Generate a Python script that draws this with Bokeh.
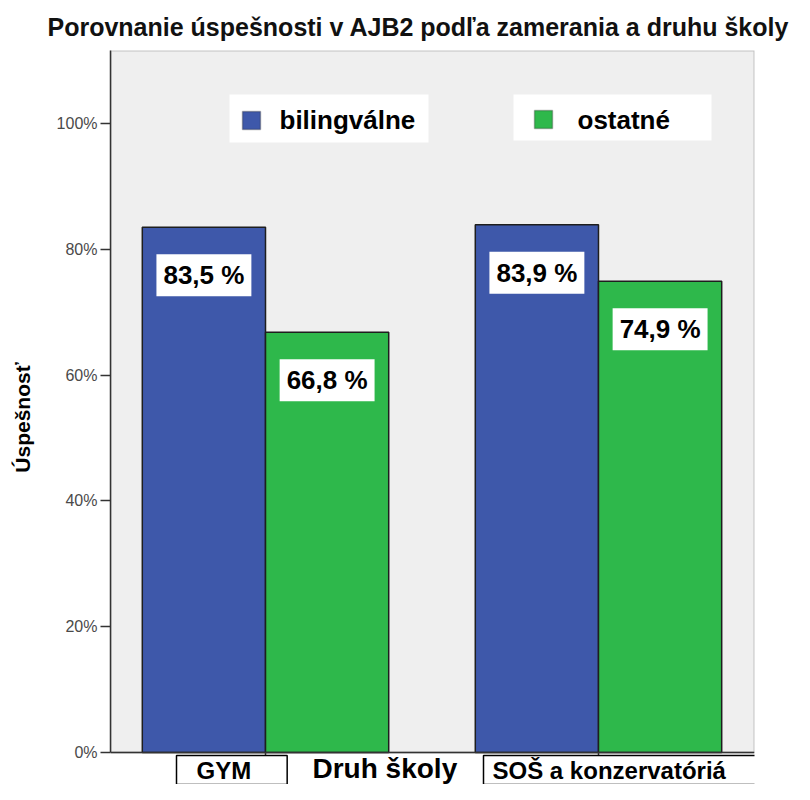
import math
from bokeh.plotting import figure
from bokeh.models import (ColumnDataSource, Range1d, FixedTicker, PrintfTickFormatter,
                          Label, BoxAnnotation, Span, Title)
from bokeh.embed import file_html
from bokeh.resources import INLINE

# ---- data ----
title_text = "Porovnanie úspešnosti v AJB2 podľa zamerania a druhu školy"
categories = ["GYM", "SOŠ a konzervatóriá"]
series_names = ["bilingválne", "ostatné"]
bilingvalne = [83.5, 83.9]
ostatne = [66.8, 74.9]
y_ticks = [0, 20, 40, 60, 80, 100]
x_axis_title = "Druh školy"
y_axis_title = "Úspešnosť"

# ---- style ----
FONT = "Liberation Sans"
COLORS = ["#3e58aa", "#2eb84b"]
EDGE = "#1e1e1e"
AXIS = "#333333"
BW = 0.37
Y_TOP = 111.6

cat_pos = [i + 1 for i in range(len(categories))]
src_b = ColumnDataSource(dict(x=[c - BW / 2 for c in cat_pos], top=bilingvalne))
src_o = ColumnDataSource(dict(x=[c + BW / 2 for c in cat_pos], top=ostatne))
src_t = ColumnDataSource(dict(x=cat_pos, y=[0] * len(cat_pos)))

p = figure(width=794, height=784,
           x_range=Range1d(0.5345, 2.4685), y_range=Range1d(-5.09, Y_TOP),
           x_axis_location=None,
           output_backend="svg", toolbar_location=None,
           min_border_left=110, min_border_right=40,
           min_border_top=50, min_border_bottom=0,
           background_fill_color="white", border_fill_color="white",
           outline_line_color=None)
p.xgrid.visible = False
p.ygrid.visible = False

# title
p.title = Title(text=title_text, align="left", offset=-63, standoff=20,
                text_font=FONT, text_font_style="bold", text_font_size="25px",
                text_color="#111111")

# grey plot area
p.add_layout(BoxAnnotation(bottom=0, fill_color="#efefef", fill_alpha=1.0,
                           line_color="#5a5a5a", line_width=2, level="underlay"))

r_b = p.vbar(x="x", top="top", width=BW, source=src_b,
             fill_color=COLORS[0], line_color=EDGE, line_width=1.5)
r_o = p.vbar(x="x", top="top", width=BW, source=src_o,
             fill_color=COLORS[1], line_color=EDGE, line_width=1.5)

# x axis line and category ticks
p.add_layout(Span(location=0, dimension="width", line_color=AXIS, line_width=1.5))
p.ray(x="x", y="y", source=src_t, length=8, length_units="screen", angle=-math.pi / 2,
      line_color=AXIS, line_width=1.5)

# y axis
ya = p.yaxis[0]
ya.bounds = (0, Y_TOP)
ya.ticker = FixedTicker(ticks=y_ticks)
ya.formatter = PrintfTickFormatter(format="%d%%")
ya.major_label_text_font = FONT
ya.major_label_text_font_size = "16px"
ya.major_label_text_color = "#4a4a4a"
ya.major_tick_out = 10
ya.major_tick_in = 0
ya.minor_tick_out = 0
ya.minor_tick_in = 0
ya.major_label_standoff = 3
ya.axis_line_color = AXIS
ya.axis_line_width = 1.5
ya.major_tick_line_color = AXIS
ya.major_tick_line_width = 1.5
ya.axis_label = y_axis_title
ya.axis_label_text_font = FONT
ya.axis_label_text_font_style = "bold"
ya.axis_label_text_font_size = "21px"
ya.axis_label_text_color = "black"
ya.axis_label_standoff = 20

# legend: two separate white boxes (screen px, relative to plot frame)
leg_boxes = [(119, 318, 642, 690), (403, 601, 644, 690)]
leg_squares = [(132, 150, 655, 673), (424, 442, 656, 674)]
leg_text_x = [169, 467]
for name, col, bx, sq, tx in zip(series_names, COLORS, leg_boxes, leg_squares, leg_text_x):
    p.add_layout(BoxAnnotation(left=bx[0], right=bx[1], bottom=bx[2], top=bx[3],
                               left_units="screen", right_units="screen",
                               bottom_units="screen", top_units="screen",
                               fill_color="white", fill_alpha=1.0, line_color=None))
    p.add_layout(BoxAnnotation(left=sq[0], right=sq[1], bottom=sq[2], top=sq[3],
                               left_units="screen", right_units="screen",
                               bottom_units="screen", top_units="screen",
                               fill_color=col, fill_alpha=1.0, line_color=EDGE, line_width=1.5))
    p.add_layout(Label(x=tx, y=665, x_units="screen", y_units="screen", text=name,
                       text_align="left", text_baseline="middle",
                       text_font=FONT, text_font_style="bold", text_font_size="26px",
                       text_color="black"))

# value labels
for xs, vals in ((src_b.data["x"], bilingvalne), (src_o.data["x"], ostatne)):
    for x, v in zip(xs, vals):
        p.add_layout(Label(x=x, y=v, y_offset=-48, text=f"{v:.1f} %".replace(".", ","),
                           text_align="center", text_baseline="middle",
                           text_font=FONT, text_font_style="bold", text_font_size="26px",
                           text_color="black",
                           background_fill_color="white", background_fill_alpha=1.0,
                           padding=dict(left=7, right=7, top=6, bottom=6)))

# category labels in boxes (anchor = left edge of box)
cat_label_x = [66, 373]
cat_pads = [dict(left=20, right=36, top=1, bottom=1), dict(left=9, right=35, top=1, bottom=1)]
for name, sx, pad in zip(categories, cat_label_x, cat_pads):
    p.add_layout(Label(x=sx, y=14.5, x_units="screen", y_units="screen", text=name,
                       text_align="left", text_baseline="middle",
                       text_font=FONT, text_font_style="bold", text_font_size="24px",
                       text_color="black",
                       background_fill_color="white", background_fill_alpha=1.0,
                       border_line_color="black", border_line_width=1.5,
                       padding=pad))

# x axis title
p.add_layout(Label(x=202, y=16, x_units="screen", y_units="screen", text=x_axis_title,
                   text_align="left", text_baseline="middle",
                   text_font=FONT, text_font_style="bold", text_font_size="28px",
                   text_color="black"))

open("out.html", "w").write(file_html(p, INLINE))
